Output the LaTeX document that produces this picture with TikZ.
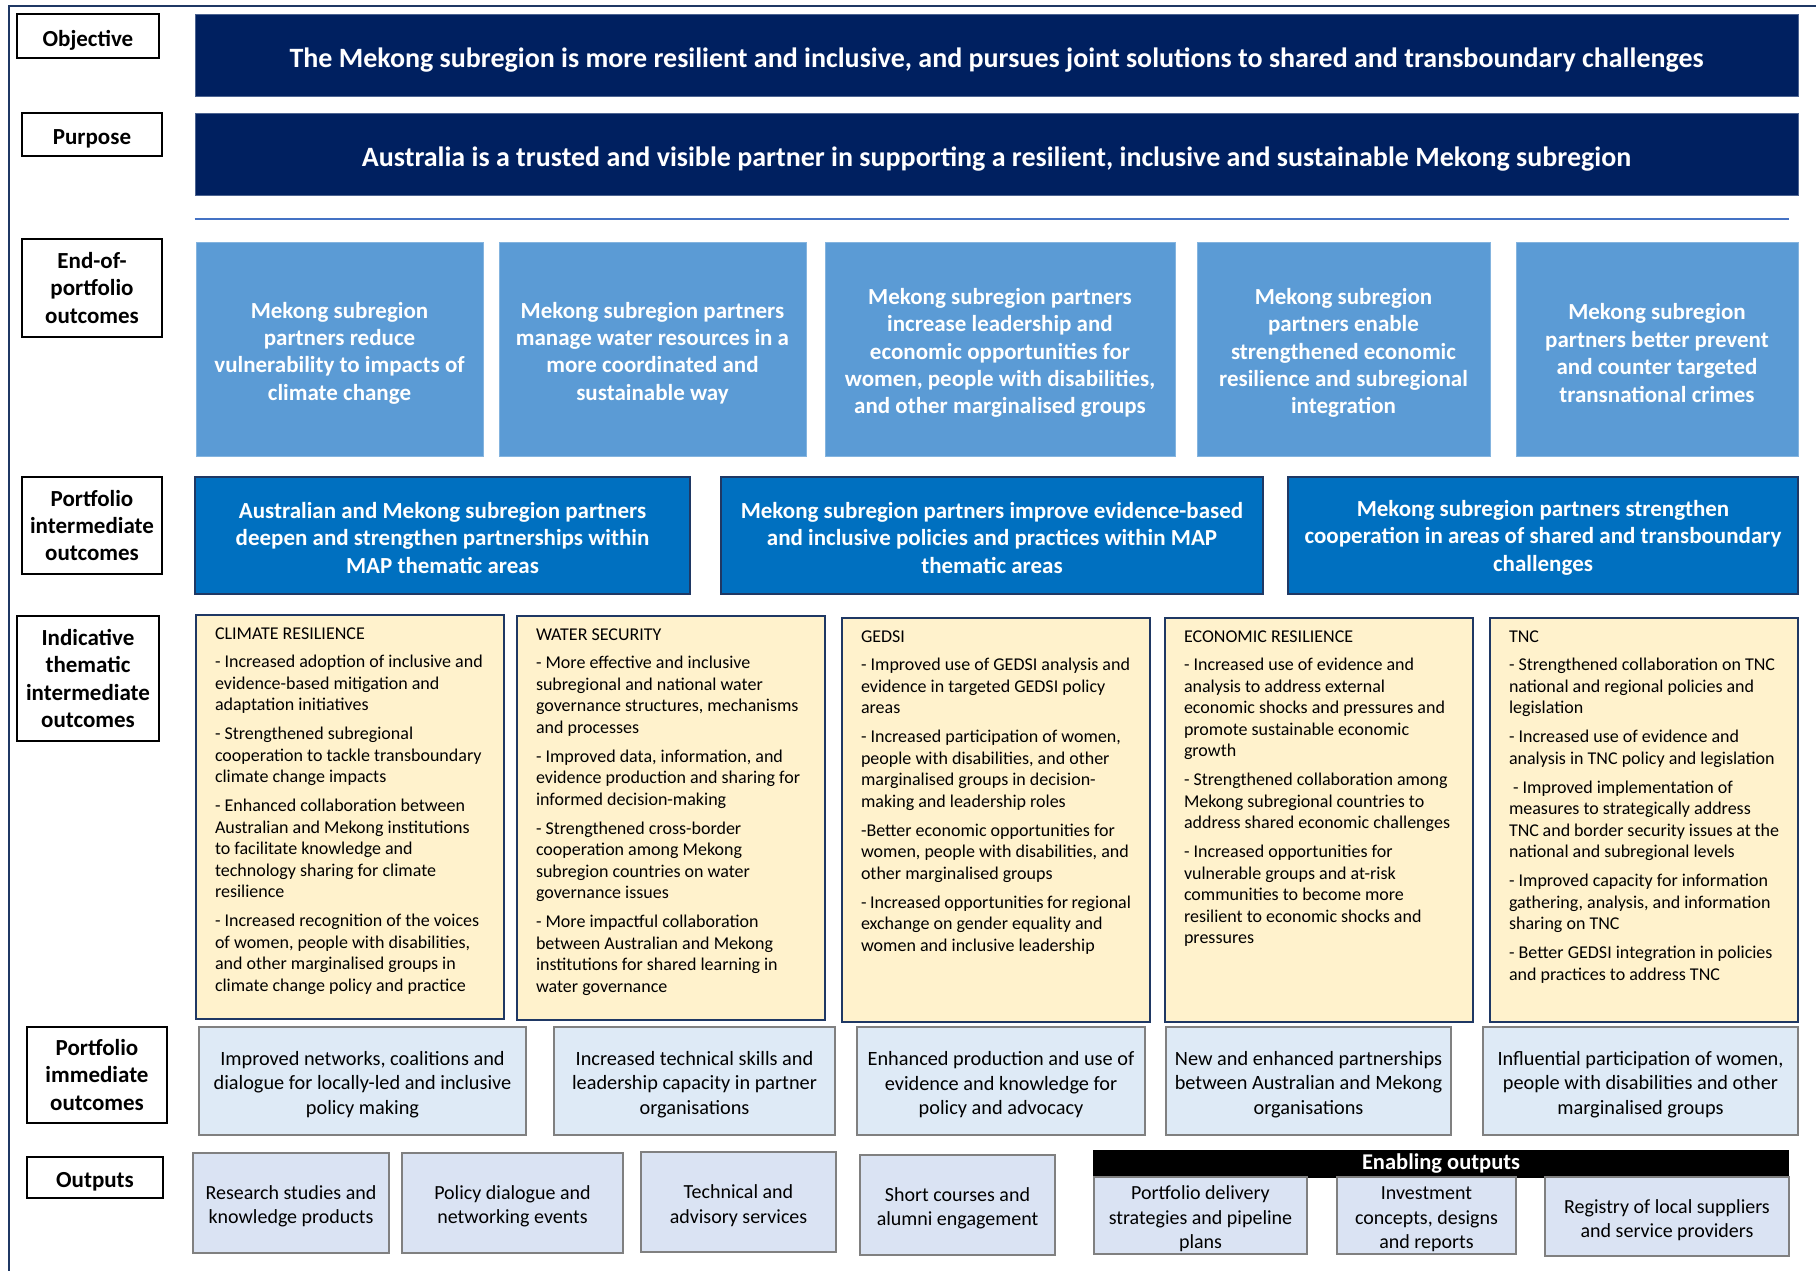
\documentclass[tikz,border=0pt]{standalone}
\usepackage{fontspec}
\setmainfont{Carlito}
\usetikzlibrary{positioning,calc}

\definecolor{navy}{HTML}{002060}
\definecolor{frameblue}{HTML}{1F3864}
\definecolor{eopoblue}{HTML}{5B9BD5}
\definecolor{pioblue}{HTML}{0070C0}
\definecolor{themeyellow}{HTML}{FFF2CC}
\definecolor{pimoblue}{HTML}{DEEAF6}
\definecolor{outblue}{HTML}{DAE3F3}
\definecolor{lineblue}{HTML}{4472C4}

\newcommand{\themetext}[1]{\parbox[c][378pt][t]{270pt}{\raggedright #1}}
\newcommand{\dropline}{\rule{0pt}{1.05em}}
\newcommand{\centerlines}{\centering\spaceskip=0pt\xspaceskip=0pt}

\tikzset{
  lbl/.style={rectangle,draw=black,line width=2pt,fill=white,align=center,inner sep=0pt,
              execute at begin node=\dropline,font=\fontsize{23}{27.4}\selectfont\bfseries},
  topbox/.style={rectangle,fill=navy,draw=navy!70!white,line width=0.8pt,text=white,
                 execute at begin node=\dropline,
                 minimum width=1603pt,minimum height=82pt,font=\fontsize{28}{32}\selectfont\bfseries},
  eopo/.style={rectangle,fill=eopoblue,draw=eopoblue!75!white,line width=0.8pt,text=white,
               minimum width=#1,text width=#1-8pt,execute at begin node={\centerlines\dropline},
               minimum height=214pt,inner sep=0pt,font=\fontsize{23}{27.4}\selectfont\bfseries},
  pio/.style={rectangle,fill=pioblue,draw=frameblue,line width=2pt,text=white,
              minimum width=#1,text width=#1-8pt,execute at begin node={\centerlines\rule{0pt}{0.9em}},
              minimum height=117pt,inner sep=0pt,font=\fontsize{23}{27.4}\selectfont\bfseries},
  theme/.style={rectangle,fill=themeyellow,draw=frameblue,line width=2pt,anchor=north west,
                inner xsep=19pt,inner ysep=13pt,font=\fontsize{18}{21.5}\selectfont},
  pimo/.style={rectangle,fill=pimoblue,draw=gray,line width=2pt,
               minimum width=#1,text width=#1-8pt,execute at begin node={\centerlines\dropline},
               minimum height=108pt,inner sep=0pt,font=\fontsize{20.3}{24.3}\selectfont},
  outp/.style={rectangle,fill=outblue,draw=gray,line width=2pt,
               minimum width=#1,text width=#1-8pt,execute at begin node={\centerlines\dropline},
               minimum height=100pt,inner sep=0pt,font=\fontsize{20}{24.3}\selectfont},
  enab/.style={rectangle,fill=outblue,draw=gray,line width=2pt,
               minimum width=#1,text width=#1-8pt,execute at begin node={\centerlines\dropline},
               minimum height=77pt,inner sep=0pt,font=\fontsize{20}{24.5}\selectfont}
}

\begin{document}
\begin{tikzpicture}[x=1pt,y=-1pt]
\useasboundingbox (0,0) rectangle (1816,1271);
\draw [frameblue,line width=2.5pt] (9,1271) -- (9,6) -- (1816,6);

% row labels
\node [lbl,minimum width=142pt,minimum height=44pt] (lobj) at (88,36) {Objective};
\node [lbl,minimum width=140pt,minimum height=43pt] (lpur) at (92,134.5) {Purpose};
\node [lbl,minimum width=140pt,minimum height=98pt] (leop) at (92,288) {End-of-\\portfolio\\outcomes};
\node [lbl,minimum width=140pt,minimum height=97pt] (lpio) at (92,525.5) {Portfolio\\intermediate\\outcomes};
\node [lbl,minimum width=142pt,minimum height=125pt] (lind) at (88,678.5) {Indicative\\thematic\\intermediate\\outcomes};
\node [lbl,minimum width=140pt,minimum height=96pt] (lpim) at (97,1075) {Portfolio\\immediate\\outcomes};
\node [lbl,minimum width=136pt,minimum height=41pt] (lout) at (95,1177.5) {Outputs};

% objective and purpose
\node [topbox] (obj) at (996.5,55) {The Mekong subregion is more resilient and inclusive, and pursues joint solutions to shared and transboundary challenges};
\node [topbox] (pur) at (996.5,154) {Australia is a trusted and visible partner in supporting a resilient, inclusive and sustainable Mekong subregion};
\draw [lineblue,line width=2pt] (pur.south west) ++(0,24) coordinate (rl) -- ($(rl)+(1594,0)$);

% end-of-portfolio outcomes
\node [eopo=287pt] (eop1) at (339.5,349) {Mekong subregion\\partners reduce\\vulnerability to impacts of\\climate change};
\node [eopo=307pt] (eop2) at (652.5,349) {Mekong subregion partners\\manage water resources in a\\more coordinated and\\sustainable way};
\node [eopo=350pt] (eop3) at (1000,349) {Mekong subregion partners\\increase leadership and\\economic opportunities for\\women, people with disabilities,\\and other marginalised groups};
\node [eopo=293pt] (eop4) at (1343.5,349) {Mekong subregion\\partners enable\\strengthened economic\\resilience and subregional\\integration};
\node [eopo=282pt] (eop5) at (1657,349) {Mekong subregion\\partners better prevent\\and counter targeted\\transnational crimes};

% portfolio intermediate outcomes
\node [pio=495pt] (pio1) at (442.5,535.5) {Australian and Mekong subregion partners\\deepen and strengthen partnerships within\\MAP thematic areas};
\node [pio=542pt] (pio2) at (992,535.5) {Mekong subregion partners improve evidence-based\\and inclusive policies and practices within MAP\\thematic areas};
\node [pio=510pt] (pio3) at (1543,535.5) {Mekong subregion partners strengthen\\cooperation in areas of shared and transboundary\\challenges};

% indicative thematic intermediate outcomes
\node [theme] (th1) at (195,614) {\themetext{CLIMATE RESILIENCE\\[6.5pt]
- Increased adoption of inclusive and\\evidence-based mitigation and\\adaptation initiatives\\[7.5pt]
- Strengthened subregional\\cooperation to tackle transboundary\\climate change impacts\\[7.5pt]
- Enhanced collaboration between\\Australian and Mekong institutions\\to facilitate knowledge and\\technology sharing for climate\\resilience\\[7.5pt]
- Increased recognition of the voices\\of women, people with disabilities,\\and other marginalised groups in\\climate change policy and practice}};
\node [theme] (th2) at (516,615) {\themetext{WATER SECURITY\\[6.5pt]
- More effective and inclusive\\subregional and national water\\governance structures, mechanisms\\and processes\\[7.5pt]
- Improved data, information, and\\evidence production and sharing for\\informed decision-making\\[7.5pt]
- Strengthened cross-border\\cooperation among Mekong\\subregion countries on water\\governance issues\\[7.5pt]
- More impactful collaboration\\between Australian and Mekong\\institutions for shared learning in\\water governance}};
\node [theme] (th3) at (841,617) {\themetext{GEDSI\\[6.5pt]
- Improved use of GEDSI analysis and\\evidence in targeted GEDSI policy\\areas\\[7.5pt]
- Increased participation of women,\\people with disabilities, and other\\marginalised groups in decision-\\making and leadership roles\\[7.5pt]
-Better economic opportunities for\\women, people with disabilities, and\\other marginalised groups\\[7.5pt]
- Increased opportunities for regional\\exchange on gender equality and\\women and inclusive leadership}};
\node [theme] (th4) at (1164,617) {\themetext{ECONOMIC RESILIENCE\\[6.5pt]
- Increased use of evidence and\\analysis to address external\\economic shocks and pressures and\\promote sustainable economic\\growth\\[7.5pt]
- Strengthened collaboration among\\Mekong subregional countries to\\address shared economic challenges\\[7.5pt]
- Increased opportunities for\\vulnerable groups and at-risk\\communities to become more\\resilient to economic shocks and\\pressures}};
\node [theme] (th5) at (1489,617) {\themetext{TNC\\[6.5pt]
- Strengthened collaboration on TNC\\national and regional policies and\\legislation\\[7.5pt]
- Increased use of evidence and\\analysis in TNC policy and legislation\\[7.5pt]
\ - Improved implementation of\\measures to strategically address\\TNC and border security issues at the\\national and subregional levels\\[7.5pt]
- Improved capacity for information\\gathering, analysis, and information\\sharing on TNC\\[7.5pt]
- Better GEDSI integration in policies\\and practices to address TNC}};

% portfolio immediate outcomes
\node [pimo=327pt] (pim1) at (362.5,1081) {Improved networks, coalitions and\\dialogue for locally-led and inclusive\\policy making};
\node [pimo=281pt] (pim2) at (694.5,1081) {Increased technical skills and\\leadership capacity in partner\\organisations};
\node [pimo=288pt] (pim3) at (1001,1081) {Enhanced production and use of\\evidence and knowledge for\\policy and advocacy};
\node [pimo=285pt] (pim4) at (1308.5,1081) {New and enhanced partnerships\\between Australian and Mekong\\organisations};
\node [pimo=315pt] (pim5) at (1640.5,1081) {Influential participation of women,\\people with disabilities and other\\marginalised groups};

% outputs
\node [outp=196pt] (out1) at (291,1203) {Research studies and\\knowledge products};
\node [outp=221pt] (out2) at (512.5,1203) {Policy dialogue and\\networking events};
\node [outp=195pt] (out3) at (738.5,1202) {Technical and\\advisory services};
\node [outp=195pt] (out4) at (957.5,1205) {Short courses and\\alumni engagement};

% enabling outputs
\node [rectangle,fill=black,text=white,minimum width=696pt,minimum height=28pt,inner sep=0pt,
       font=\fontsize{22.5}{24}\selectfont\bfseries] (enbar) at (1441,1164) {Enabling outputs};
\node [enab=213pt] (en1) at (1200.5,1215.5) {Portfolio delivery\\strategies and pipeline\\plans};
\node [enab=179pt] (en2) at (1426.5,1215.5) {Investment\\concepts, designs\\and reports};
\node [enab=244pt,minimum height=79pt] (en3) at (1667,1216.5) {Registry of local suppliers\\and service providers};
\end{tikzpicture}
\end{document}
